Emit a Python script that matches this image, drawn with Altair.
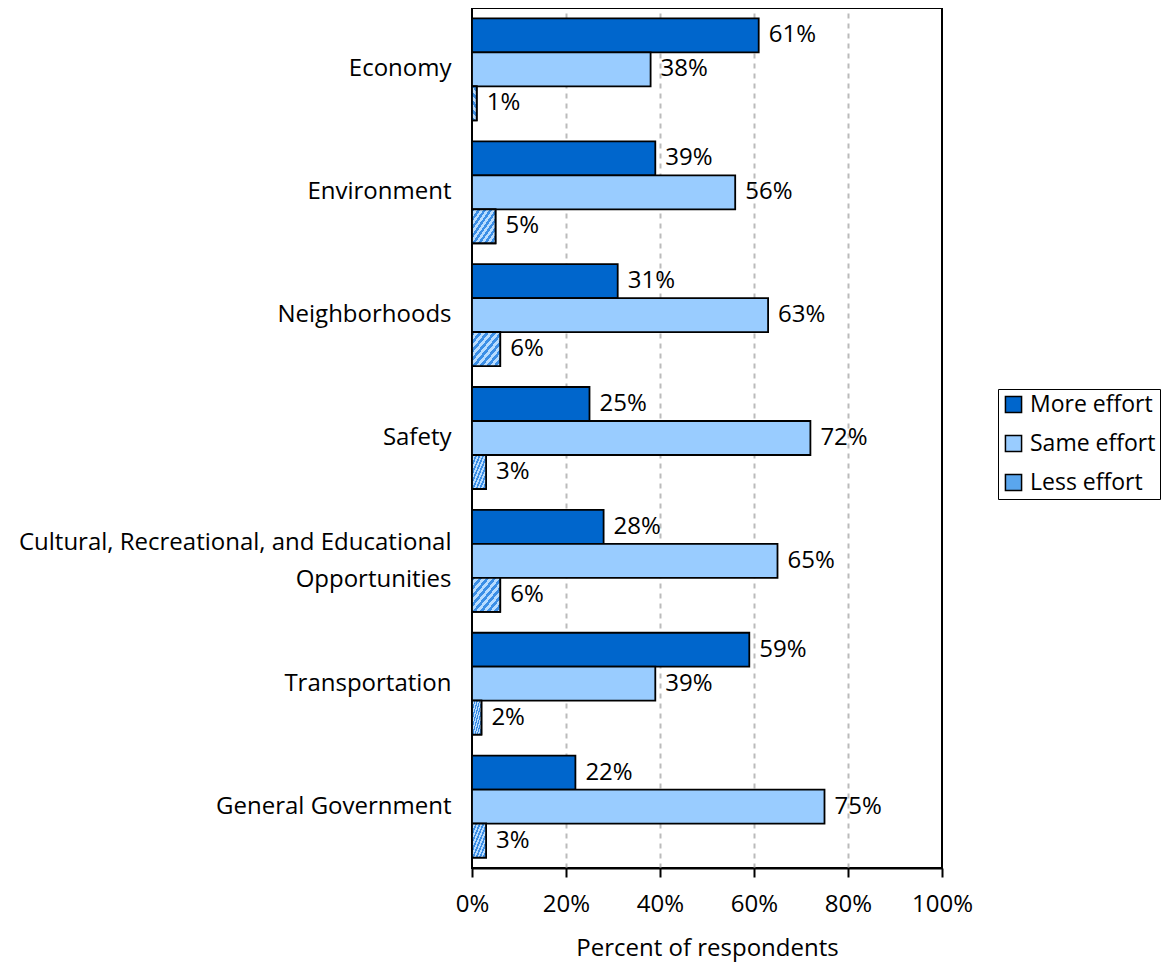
import altair as alt
import pandas as pd

categories = ["Economy", "Environment", "Neighborhoods", "Safety",
              "Cultural, Recreational, and Educational Opportunities",
              "Transportation", "General Government"]
series = ["More effort", "Same effort", "Less effort"]
more_effort = [61, 39, 31, 25, 28, 59, 22]
same_effort = [38, 56, 63, 72, 65, 39, 75]
less_effort = [1, 5, 6, 3, 6, 2, 3]
x_ticks = [0, 20, 40, 60, 80, 100]

rows = []
for i, c in enumerate(categories):
    for s, vals in zip(series, [more_effort, same_effort, less_effort]):
        rows.append({"category": c, "series": s, "value": vals[i]})
df = pd.DataFrame(rows)

FONT = "Open Sans"
FS = 24
LONG = "Cultural, Recreational, and Educational Opportunities"

n = 8
stops = []
for i in range(n):
    stops.append(alt.GradientStop(offset=i / n, color="#3b8ee6"))
    stops.append(alt.GradientStop(offset=(i + 0.5) / n, color="#3b8ee6"))
    stops.append(alt.GradientStop(offset=(i + 0.5) / n, color="#b8dcff"))
    stops.append(alt.GradientStop(offset=(i + 1) / n, color="#b8dcff"))
hatch = alt.Gradient(gradient="linear", stops=stops, x1=0, y1=0, x2=1, y2=1)

y_enc = alt.Y("category:N", sort=categories, title=None,
              scale=alt.Scale(paddingInner=0.17, paddingOuter=0.085),
              axis=alt.Axis(labelFontSize=FS, labelFont=FONT, labelColor="black",
                            ticks=False, domain=False, labelPadding=21,
                            labelLimit=700, labelLineHeight=37,
                            labelOffset={"condition": {"test": f"datum.value == '{LONG}'", "value": -18},
                                         "value": 0},
                            labelExpr=f"datum.label == '{LONG}' ? ['Cultural, Recreational, and Educational', 'Opportunities'] : datum.label"))
yoff = alt.YOffset("series:N", sort=series, scale=alt.Scale(paddingInner=0, paddingOuter=0))
x_enc = alt.X("value:Q", scale=alt.Scale(domain=[0, 100]),
              title="Percent of respondents",
              axis=alt.Axis(values=x_ticks, labelExpr="datum.value + '%'",
                            labelFontSize=FS, labelFont=FONT, labelColor="black",
                            labelFlush=False,
                            titleFontSize=FS, titleFont=FONT, titleFontWeight="normal",
                            titleColor="black", titlePadding=20,
                            domainColor="black", domainWidth=2,
                            tickColor="black", tickWidth=2, tickSize=9,
                            labelPadding=15,
                            grid=True,
                            gridColor={"condition": {"test": "datum.value == 0 || datum.value == 100",
                                                     "value": "transparent"},
                                       "value": "#bbbbbb"},
                            gridDash=[5, 5], gridWidth=2))

bars = alt.Chart(df).mark_bar(stroke="black", strokeWidth=1.8).encode(
    x=x_enc, y=y_enc, yOffset=yoff,
    color=alt.Color("series:N", sort=series,
                    scale=alt.Scale(domain=series, range=["#0066cc", "#99ccff", "#5aa6ee"]),
                    legend=alt.Legend(title=None, orient="none", legendX=526, legendY=381,
                                      labelFontSize=FS - 1, labelFont=FONT, labelColor="black",
                                      symbolType="square", symbolSize=260,
                                      symbolStrokeColor="black", symbolStrokeWidth=1.5,
                                      rowPadding=15, strokeColor="black",
                                      padding=4, labelOffset=5))
)

hatch_bars = alt.Chart(df).transform_filter(
    alt.datum.series == "Less effort"
).mark_bar(fill=hatch, stroke="black", strokeWidth=1.8).encode(
    x="value:Q", y=alt.Y("category:N", sort=categories), yOffset=yoff
)

labels = alt.Chart(df).mark_text(align="left", baseline="middle", dx=10,
                                 fontSize=FS, font=FONT, color="black").encode(
    x="value:Q", y=alt.Y("category:N", sort=categories), yOffset=yoff,
    text=alt.Text("label:N")
).transform_calculate(label="datum.value + '%'")

chart = alt.layer(bars, hatch_bars, labels).properties(
    width=470, height=860, background="white",
    padding={"left": 10, "top": 0, "right": 0, "bottom": 4}
).configure_view(stroke="black", strokeWidth=2)

chart.save("out.html", embed_options={"renderer": "svg", "actions": False})
